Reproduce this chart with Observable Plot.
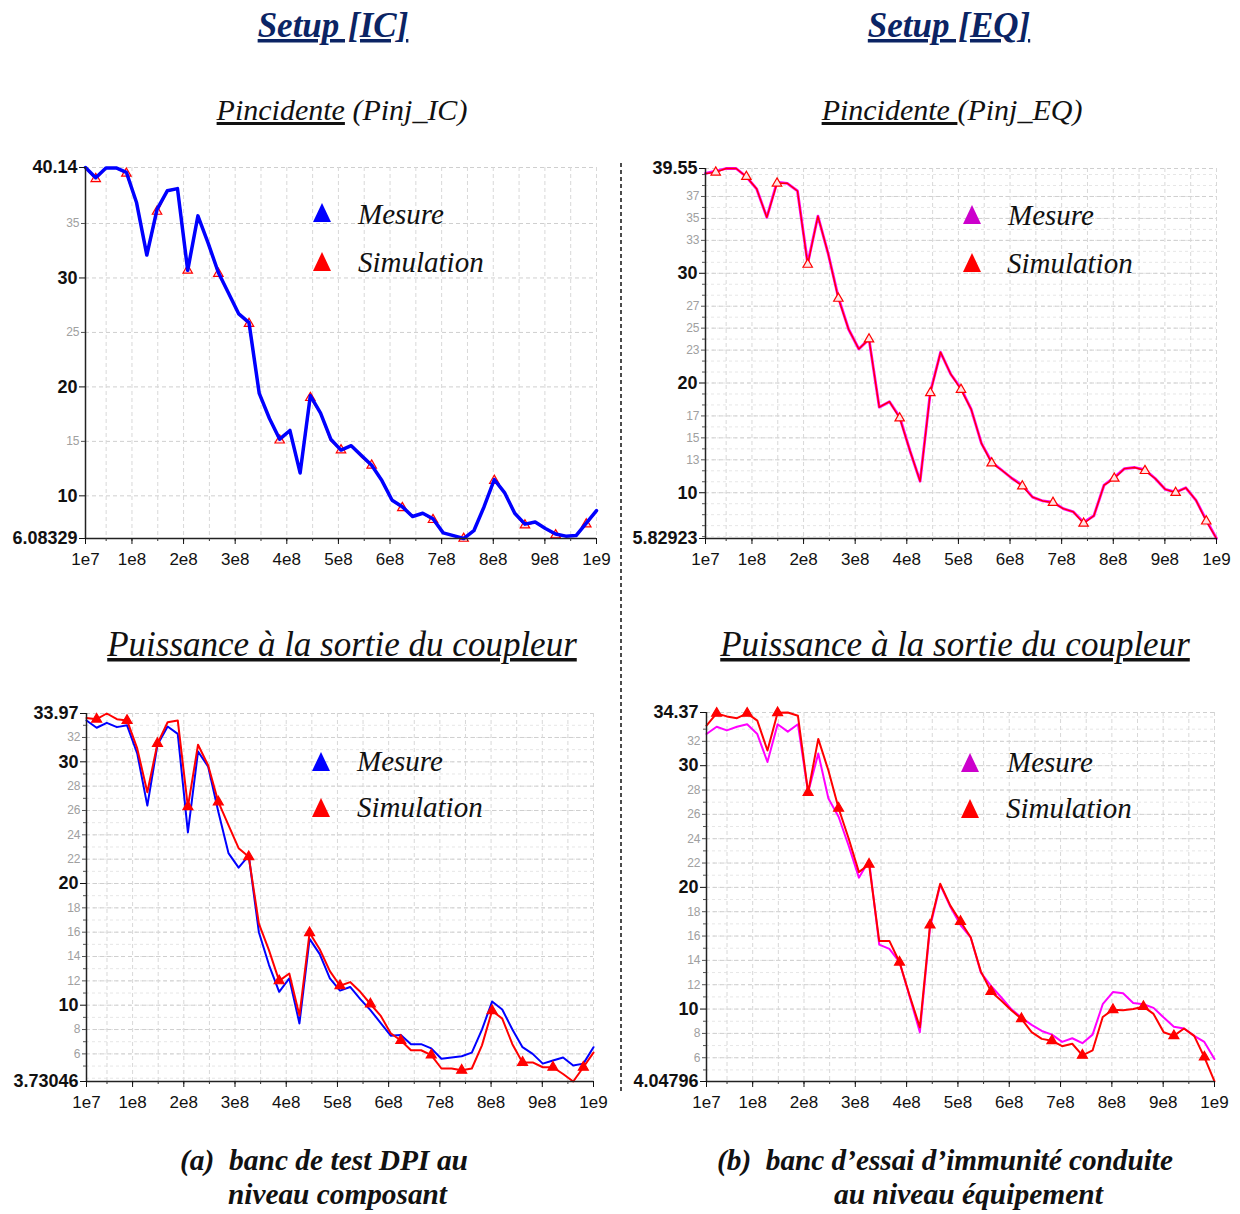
<!DOCTYPE html>
<html><head><meta charset="utf-8">
<script src="https://cdn.jsdelivr.net/npm/d3@7"></script>
<script src="https://cdn.jsdelivr.net/npm/@observablehq/plot@0.6"></script>
<style>
body{margin:0;background:#fff;}
#page{position:relative;width:1240px;height:1214px;overflow:hidden;background:#fff;}
#page svg{position:absolute;}
</style></head>
<body><div id="page"></div>
<script>
// ---------- DATA ----------
const freqMHz = [10, 29.8, 49.6, 69.4, 89.2, 109, 128.8, 148.6, 168.4, 188.2,
  208, 227.8, 247.6, 267.4, 287.2, 307, 326.8, 346.6, 366.4, 386.2,
  406, 425.8, 445.6, 465.4, 485.2, 505, 524.8, 544.6, 564.4, 584.2,
  604, 623.8, 643.6, 663.4, 683.2, 703, 722.8, 742.6, 762.4, 782.2,
  802, 821.8, 841.6, 861.4, 881.2, 901, 920.8, 940.6, 960.4, 980.2, 1000];

const xTickValues = [10, 100, 200, 300, 400, 500, 600, 700, 800, 900, 1000];
const xTickLabels = ["1e7", "1e8", "2e8", "3e8", "4e8", "5e8", "6e8", "7e8", "8e8", "9e8", "1e9"];

// Setup IC - Pincidente
const mesIC_inc = [40.14, 39.2, 40.1, 40.1, 39.7, 36.9, 32.1, 36.3, 38.0, 38.2,
  30.7, 35.7, 33.2, 30.5, 28.6, 26.7, 25.9, 19.4, 17.1, 15.2,
  16.0, 12.1, 19.2, 17.6, 15.2, 14.2, 14.6, 13.7, 12.8, 11.4,
  9.6, 9.0, 8.1, 8.4, 7.9, 6.6, 6.35, 6.08, 6.8, 9.0,
  11.5, 10.3, 8.4, 7.4, 7.6, 7.0, 6.5, 6.3, 6.35, 7.5, 8.65];
const simIC_inc = [40.1, 39.1, 40.1, 40.1, 39.6, 36.9, 32.1, 36.1, 38.0, 38.2,
  30.7, 35.7, 33.2, 30.4, 28.6, 26.7, 25.8, 19.4, 17.1, 15.1,
  16.0, 12.1, 19.0, 17.6, 15.1, 14.2, 14.6, 13.6, 12.8, 11.4,
  9.6, 8.9, 8.1, 8.4, 7.8, 6.6, 6.35, 6.08, 6.8, 9.0,
  11.4, 10.3, 8.4, 7.3, 7.6, 7.0, 6.4, 6.3, 6.35, 7.4, 8.65];

// Setup EQ - Pincidente
const mesEQ_inc = [39.1, 39.3, 39.55, 39.55, 38.8, 37.7, 35.1, 38.3, 38.2, 37.5,
  30.9, 35.2, 31.8, 27.8, 24.9, 23.1, 24.0, 17.8, 18.3, 16.9,
  13.85, 11.05, 19.2, 22.8, 20.8, 19.5, 17.6, 14.5, 12.8, 12.05,
  11.3, 10.7, 9.6, 9.25, 9.15, 8.55, 8.25, 7.3, 7.9, 10.7,
  11.4, 12.2, 12.3, 12.1, 11.3, 10.3, 10.05, 10.45, 9.3, 7.5, 5.83];
const simEQ_inc = [39.1, 39.2, 39.55, 39.55, 38.8, 37.7, 35.1, 38.2, 38.2, 37.5,
  30.8, 35.2, 31.8, 27.7, 24.9, 23.1, 24.0, 17.8, 18.3, 16.8,
  13.85, 11.05, 19.1, 22.8, 20.8, 19.4, 17.6, 14.5, 12.7, 12.05,
  11.3, 10.6, 9.6, 9.25, 9.1, 8.55, 8.25, 7.2, 7.9, 10.7,
  11.3, 12.2, 12.3, 12.0, 11.3, 10.3, 10.0, 10.45, 9.3, 7.4, 5.83];

// Setup IC - Puissance sortie coupleur
const mesIC_out = [33.4, 32.8, 33.2, 32.85, 33.0, 30.7, 26.4, 31.4, 32.9, 32.3,
  24.2, 30.85, 29.6, 25.9, 22.5, 21.3, 22.3, 16.0, 13.3, 11.1,
  12.2, 8.5, 15.45, 14.2, 12.2, 11.2, 11.5, 10.5, 9.6, 8.55,
  7.5, 7.55, 6.8, 6.8, 6.45, 5.6, 5.7, 5.8, 6.1, 8.0,
  10.3, 9.65, 8.0, 6.55, 6.0, 5.2, 5.45, 5.7, 5.05, 5.2, 6.55];
const simIC_out = [33.6, 33.5, 33.97, 33.5, 33.4, 31.1, 27.5, 31.5, 33.25, 33.4,
  26.3, 31.4, 29.7, 26.7, 24.8, 22.9, 22.2, 16.7, 14.5, 12.0,
  12.6, 9.15, 15.95, 14.6, 12.8, 11.6, 11.9, 11.1, 10.1, 9.15,
  7.7, 7.1, 6.3, 6.3, 5.9, 4.8, 4.8, 4.65, 4.8, 6.7,
  9.55, 8.9, 6.8, 5.3, 5.3, 4.9, 4.9, 4.35, 3.73, 4.9, 6.1];

// Setup EQ - Puissance sortie coupleur
const mesEQ_out = [32.6, 33.2, 32.9, 33.2, 33.4, 32.6, 30.3, 33.4, 32.8, 33.4,
  27.8, 31.0, 27.3, 25.8, 23.4, 20.8, 22.2, 15.3, 14.95, 13.85,
  11.0, 8.1, 16.7, 20.2, 18.4, 16.9, 15.9, 13.0, 11.9, 10.97,
  10.0, 9.3, 8.7, 8.2, 7.9, 7.3, 7.6, 7.2, 7.9, 10.4,
  11.4, 11.3, 10.5, 10.4, 10.1, 9.3, 8.55, 8.4, 7.8, 7.3, 5.9];
const simEQ_out = [33.3, 34.3, 34.05, 33.9, 34.3, 33.7, 31.25, 34.35, 34.37, 34.1,
  27.8, 32.2, 29.6, 26.5, 24.0, 21.25, 21.9, 15.6, 15.6, 13.85,
  11.1, 8.5, 16.9, 20.3, 18.5, 17.2, 15.9, 13.1, 11.45, 10.7,
  9.9, 9.2, 8.1, 7.55, 7.4, 6.95, 7.15, 6.2, 6.6, 9.35,
  9.95, 9.9, 10.0, 10.2, 9.6, 8.1, 7.8, 8.4, 7.8, 6.05, 4.05];

// Y tick labels
const yMajor_TL = [40.14, 30, 20, 10, 6.08329];
const yMinorLab_TL = [35, 25, 15];
const yMajor_TR = [39.55, 30, 20, 10, 5.82923];
const yMinorLab_TR = [37, 35, 33, 27, 25, 23, 17, 15, 13];
const yMajor_BL = [33.97, 30, 20, 10, 3.73046];
const yMinorLab_BL = [32, 28, 26, 24, 22, 18, 16, 14, 12, 8, 6];
const yMajor_BR = [34.37, 30, 20, 10, 4.04796];
const yMinorLab_BR = [32, 28, 26, 24, 22, 18, 16, 14, 12, 8, 6];

// ---------- CHARTS ----------
const xGridMinor = d3.range(50, 1001, 50);
const page = document.getElementById("page");

function chart(c) {
  const mes = freqMHz.map((f, i) => ({f, v: c.mes[i]}));
  const sim = freqMHz.map((f, i) => ({f, v: c.sim[i]}));
  const markers = sim.filter((d, i) => i % 3 === 1);
  const y1 = c.yMajor[0], y0 = c.yMajor[c.yMajor.length - 1];
  const mesLine = Plot.line(mes, {x: "f", y: "v", stroke: c.mesColor, strokeWidth: c.mesWidth});
  const simLine = Plot.line(sim, {x: "f", y: "v", stroke: "#ff0000", strokeWidth: c.simWidth});
  const dots = Plot.dot(markers, {x: "f", y: "v", symbol: "triangle", r: c.markerR, stroke: "#ff0000", strokeWidth: 1.2, fill: c.markerFill});
  const dataMarks = c.order === "simBelow" ? [simLine, dots, mesLine] : [mesLine, simLine, dots];
  const svg = Plot.plot({
    width: c.width, height: c.height,
    marginLeft: c.ml, marginRight: c.mr, marginTop: c.mt, marginBottom: c.mb,
    x: {type: "linear", domain: [10, 1000], axis: null, label: null},
    y: {type: "linear", domain: [y0, y1], axis: null, label: null},
    style: {fontFamily: "'Liberation Sans', Arial, sans-serif", background: "transparent", overflow: "visible"},
    marks: [
      Plot.gridY(c.gridMinor, {stroke: "#e6e6e6", strokeOpacity: 1, strokeDasharray: "3,3"}),
      Plot.gridY(c.gridMajor.concat([y1]), {stroke: "#cfcfcf", strokeOpacity: 1, strokeDasharray: "4,3"}),
      Plot.gridX(xGridMinor, {stroke: "#d8d8d8", strokeOpacity: 1, strokeDasharray: "4,3"}),
      ...dataMarks,
      Plot.ruleX([10], {stroke: "#222", strokeWidth: 1.5}),
      Plot.ruleY([y0], {stroke: "#222", strokeWidth: 1.5}),
      Plot.axisY(c.yMinorTicks, {tickSize: 3, stroke: "#555", tickFormat: () => "", label: null}),
      Plot.axisY(c.yMinorLab, {tickSize: 4, tickPadding: 2, fontSize: 12, fill: "#a0a0a0", stroke: "#555", tickFormat: d => String(d), label: null}),
      Plot.axisY(c.yMajor, {tickSize: 6, tickPadding: 2, fontSize: 18, fontWeight: "bold", fill: "#111", stroke: "#111", tickFormat: d => String(d), label: null}),
      Plot.axisX(xGridMinor, {tickSize: 3, stroke: "#333", tickFormat: () => "", label: null}),
      Plot.axisX(xTickValues, {tickSize: 6, tickPadding: 8, fontSize: 17, fill: "#111", stroke: "#111", tickFormat: d => xTickLabels[xTickValues.indexOf(d)], label: null})
    ]
  });
  svg.style.left = c.left + "px";
  svg.style.top = c.top + "px";
  page.appendChild(svg);
}

chart({left: 0, top: 150, width: 610, height: 420, ml: 85, mr: 14, mt: 17, mb: 32,
  mes: mesIC_inc, sim: simIC_inc, mesColor: "#0000ff", mesWidth: 3.5, simWidth: 2, markerR: 3.5, markerFill: "#ffdede", order: "simBelow",
  yMajor: yMajor_TL, yMinorLab: yMinorLab_TL, yMinorTicks: [],
  gridMajor: [35, 30, 25, 20, 15, 10], gridMinor: []});

chart({left: 620, top: 150, width: 620, height: 420, ml: 85, mr: 24, mt: 18, mb: 32,
  mes: mesEQ_inc, sim: simEQ_inc, mesColor: "#ff00ff", mesWidth: 2.8, simWidth: 1.4, markerR: 3.5, markerFill: "#ffe4e4", order: "mesBelow",
  yMajor: yMajor_TR, yMinorLab: yMinorLab_TR, yMinorTicks: d3.range(6, 40).filter(v => !yMinorLab_TR.includes(v) && ![10, 20, 30].includes(v)),
  gridMajor: [37, 35, 33, 30, 27, 25, 23, 20, 17, 15, 13, 10], gridMinor: d3.range(6, 40)});

chart({left: 0, top: 695, width: 610, height: 420, ml: 86, mr: 17, mt: 18, mb: 34,
  mes: mesIC_out, sim: simIC_out, mesColor: "#0000ff", mesWidth: 2, simWidth: 2, markerR: 3.7, markerFill: "#ff0000", order: "mesBelow",
  yMajor: yMajor_BL, yMinorLab: yMinorLab_BL, yMinorTicks: d3.range(5, 34, 2),
  gridMajor: [32, 30, 28, 26, 24, 22, 20, 18, 16, 14, 12, 10, 8, 6], gridMinor: d3.range(4, 34)});

chart({left: 620, top: 695, width: 620, height: 420, ml: 86, mr: 26, mt: 17, mb: 34,
  mes: mesEQ_out, sim: simEQ_out, mesColor: "#ff00ff", mesWidth: 2, simWidth: 2, markerR: 3.7, markerFill: "#ff0000", order: "mesBelow",
  yMajor: yMajor_BR, yMinorLab: yMinorLab_BR, yMinorTicks: d3.range(5, 35, 2),
  gridMajor: [32, 30, 28, 26, 24, 22, 20, 18, 16, 14, 12, 10, 8, 6], gridMinor: d3.range(5, 35)});

// ---------- OVERLAY TEXT ----------
const ov = d3.select(page).append("svg")
  .attr("width", 1240).attr("height", 1214)
  .style("left", "0px").style("top", "0px").style("pointer-events", "none")
  .style("font-family", "'Liberation Serif', 'Times New Roman', serif");

// separator
ov.append("line").attr("x1", 621).attr("x2", 621).attr("y1", 163).attr("y2", 1092)
  .attr("stroke", "#000").attr("stroke-width", 1.4).attr("stroke-dasharray", "4,3");

const titles = [
  {text: "Setup [IC]", x: 333, y: 37},
  {text: "Setup [EQ]", x: 949, y: 37}
];
titles.forEach(t => ov.append("text").attr("x", t.x).attr("y", t.y).attr("text-anchor", "middle")
  .attr("font-size", 35).attr("font-weight", "bold").attr("font-style", "italic").attr("fill", "#0b2464")
  .style("text-decoration", "underline").text(t.text));

const subs = [
  {u: "Pincidente", rest: " (Pinj_IC)", x: 342, y: 120},
  {u: "Pincidente ", rest: "(Pinj_EQ)", x: 952, y: 120}
];
subs.forEach(s => {
  const t = ov.append("text").attr("x", s.x).attr("y", s.y).attr("text-anchor", "middle")
    .attr("font-size", 30).attr("font-style", "italic").attr("fill", "#111").style("white-space", "pre");
  t.append("tspan").style("text-decoration", "underline").text(s.u);
  t.append("tspan").text(s.rest);
});

[{x: 342, y: 656}, {x: 955, y: 656}].forEach(p => ov.append("text").attr("x", p.x).attr("y", p.y)
  .attr("text-anchor", "middle").attr("font-size", 35).attr("font-style", "italic").attr("fill", "#111")
  .style("text-decoration", "underline").text("Puissance à la sortie du coupleur"));

// legends
const legends = [
  {cx: 322, cy: 213, color: "#0000ff", label: "Mesure", tx: 358, ty: 224},
  {cx: 322, cy: 262, color: "#ff0000", label: "Simulation", tx: 358, ty: 272},
  {cx: 972, cy: 215, color: "#cc00cc", label: "Mesure", tx: 1008, ty: 225},
  {cx: 972, cy: 263, color: "#ff0000", label: "Simulation", tx: 1007, ty: 273},
  {cx: 321, cy: 762, color: "#0000ff", label: "Mesure", tx: 357, ty: 771},
  {cx: 321, cy: 808, color: "#ff0000", label: "Simulation", tx: 357, ty: 817},
  {cx: 970, cy: 763, color: "#cc00cc", label: "Mesure", tx: 1007, ty: 772},
  {cx: 970, cy: 809, color: "#ff0000", label: "Simulation", tx: 1006, ty: 818}
];
legends.forEach(l => {
  ov.append("polygon").attr("points", `${l.cx},${l.cy - 10} ${l.cx - 9},${l.cy + 9} ${l.cx + 9},${l.cy + 9}`).attr("fill", l.color);
  ov.append("text").attr("x", l.tx).attr("y", l.ty).attr("font-size", 29).attr("font-style", "italic").attr("fill", "#111").text(l.label);
});

// captions
const caps = [
  {text: "(a)  banc de test DPI au", x: 180, y: 1170, w: 288},
  {text: "niveau composant", x: 228, y: 1204, w: 219},
  {text: "(b)  banc d’essai d’immunité conduite", x: 717, y: 1170, w: 456},
  {text: "au niveau équipement", x: 834, y: 1204, w: 269}
];
caps.forEach(c => ov.append("text").attr("x", c.x).attr("y", c.y).attr("font-size", 29)
  .attr("font-weight", "bold").attr("font-style", "italic").attr("fill", "#111")
  .attr("textLength", c.w).attr("lengthAdjust", "spacingAndGlyphs").style("white-space", "pre").text(c.text));
</script>
</body></html>
